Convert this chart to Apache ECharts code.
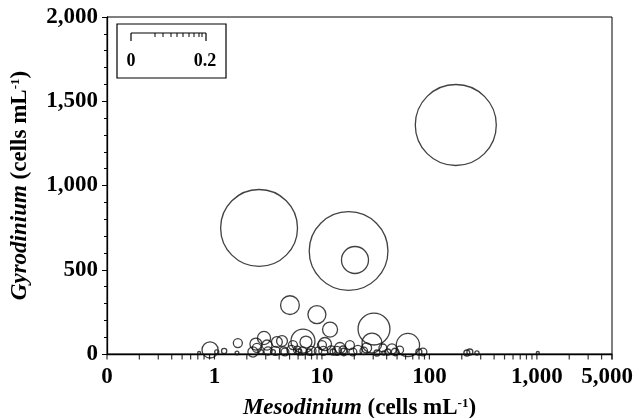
<!DOCTYPE html>
<html>
<head>
<meta charset="utf-8">
<script src="https://cdn.jsdelivr.net/npm/echarts@6/dist/echarts.min.js"></script>
<style>
  html, body { margin: 0; padding: 0; background: #fff; }
  #chart { width: 638px; height: 418px; }
</style>
</head>
<body>
<div id="chart"></div>
<script>
// Mesodinium abundance (cells mL-1), Gyrodinium abundance (cells mL-1), bubble value
const mesodinium = [
  176, 2.6, 17.7, 20.3, 5.04, 8.98, 11.9, 30.5, 29.2, 63.1,
  6.66, 0.91, 0.72, 1.05, 1.23, 1.65, 1.62, 2.43, 2.28, 2.89,
  2.48, 2.71, 3.08, 3.5, 3.81, 4.25, 4.53, 5.37, 6.11, 7.1,
  7.57, 10.66, 10, 12.7, 14.7, 15.7, 18.2, 19.4, 21.6, 32.5,
  36.9, 37.7, 44.8, 79.8, 87, 223, 238, 277, 1020,
  3.15, 3.7, 4.4, 5.2, 5.9, 6.6, 8.0, 9.2, 10.3, 12.2,
  13.8, 16.0, 24.5, 26, 41, 48, 53
];
const gyrodinium = [
  1359, 748, 611, 558, 290, 234, 145, 148, 65, 53,
  77, 24, 6, 12, 18, 65, 6, 59, 12, 95,
  36, 12, 53, 12, 71, 77, 12, 53, 12, 71,
  12, 59, 53, 12, 36, 24, 53, 12, 24, 6,
  36, 6, 30, 12, 12, 6, 12, 6, 6,
  18, 18, 18, 24, 24, 18, 18, 18, 18, 24,
  18, 12, 18, 36, 12, 12, 24
];
const bubbleValue = [
  0.216, 0.205, 0.21, 0.072, 0.05, 0.048, 0.04, 0.085, 0.053, 0.062,
  0.064, 0.043, 0.008, 0.011, 0.014, 0.024, 0.01, 0.032, 0.027, 0.035,
  0.024, 0.013, 0.027, 0.013, 0.029, 0.029, 0.021, 0.024, 0.016, 0.032,
  0.016, 0.035, 0.024, 0.016, 0.029, 0.021, 0.024, 0.021, 0.024, 0.016,
  0.021, 0.011, 0.027, 0.016, 0.021, 0.016, 0.016, 0.011, 0.008,
  0.022, 0.024, 0.022, 0.024, 0.02, 0.022, 0.024, 0.02, 0.024, 0.022,
  0.024, 0.02, 0.02, 0.027, 0.016, 0.02, 0.02
];

const xTickLabels = [0, 1, 10, 100, 1000, 5000];
const yTickLabels = [0, 500, 1000, 1500, 2000];

// "0" sits one decade below 1 on the log axis
const toLog = (v) => (v <= 0 ? -1 : Math.log10(v));
const xMin = -1;
const xMax = Math.log10(5000);

// log minor ticks (1..9 of each decade) up to 5000
const xTicks = [];
for (let d = -1; d <= 3; d++) {
  for (let k = 1; k <= 9; k++) {
    const v = d + Math.log10(k);
    if (v <= xMax + 1e-9) xTicks.push(v);
  }
}
xTicks.push(xMax);

const bubbleLegendPx = 75; // bar length of the 0.2 size key

const fmt = (n) => n.toLocaleString('en-US');
const font = 'Liberation Serif';
const labelSize = 23;

const titleRich = {
  i: { fontFamily: font, fontWeight: 'bold', fontStyle: 'italic', fontSize: labelSize, color: '#000' },
  n: { fontFamily: font, fontWeight: 'bold', fontSize: labelSize, color: '#000' },
  s: { fontFamily: font, fontWeight: 'bold', fontSize: 13, color: '#000', verticalAlign: 'top', padding: [0, 0, 10, 0] }
};

const chart = echarts.init(document.getElementById('chart'));
chart.setOption({
  animation: false,
  backgroundColor: '#fff',
  grid: {
    left: 107, right: 26, top: 17, bottom: 64,
    containLabel: false,
    outerBoundsMode: 'none',
    show: true, borderColor: '#000', borderWidth: 1
  },
  xAxis: {
    type: 'value',
    min: xMin,
    max: xMax,
    interval: 1,
    splitLine: { show: false },
    axisLine: { onZero: false, lineStyle: { color: '#000', width: 1.3 } },
    axisTick: { show: false },
    axisLabel: {
      customValues: xTickLabels.map(toLog),
      formatter: (v) => {
        const i = xTickLabels.map(toLog).findIndex((t) => Math.abs(t - v) < 1e-6);
        if (i < 0) return '';
        // last label is nudged left so it stays inside the canvas
        return i === xTickLabels.length - 1 ? '{last|' + fmt(xTickLabels[i]) + '}' : fmt(xTickLabels[i]);
      },
      margin: 12,
      color: '#000', fontFamily: font, fontWeight: 'bold', fontSize: labelSize,
      rich: {
        last: { fontFamily: font, fontWeight: 'bold', fontSize: labelSize, color: '#000', padding: [0, 10, 0, 0] }
      }
    },
    name: '{i|Mesodinium}{n| (cells mL}{s|-1}{n|)}',
    nameLocation: 'middle',
    nameGap: 43,
    nameTextStyle: { rich: titleRich }
  },
  yAxis: {
    type: 'value',
    min: 0,
    max: 2000,
    interval: 500,
    splitLine: { show: false },
    axisLine: { show: true, onZero: false, lineStyle: { color: '#000', width: 1.3 } },
    axisTick: { show: true, length: 5, lineStyle: { color: '#000' } },
    minorTick: { show: true, splitNumber: 5, length: 3, lineStyle: { color: '#000' } },
    axisLabel: {
      customValues: yTickLabels,
      formatter: (v) => fmt(v),
      margin: 9,
      color: '#000', fontFamily: font, fontWeight: 'bold', fontSize: labelSize
    },
    name: '{i|Gyrodinium}{n| (cells mL}{s|-1}{n|)}',
    nameLocation: 'middle',
    nameRotate: 90,
    nameGap: 75,
    nameTextStyle: { rich: titleRich }
  },
  series: [
    {
      type: 'scatter',
      data: mesodinium.map((m, i) => [toLog(m), gyrodinium[i], bubbleValue[i]]),
      symbol: 'circle',
      symbolSize: (val) => (val[2] / 0.2) * bubbleLegendPx,
      itemStyle: { color: 'rgba(0,0,0,0)', borderColor: '#111', borderWidth: 1.3 },
      clip: false
    },
    {
      // log-spaced tick marks below the x axis
      type: 'scatter',
      silent: true,
      data: xTicks.map((v) => [v, 0]),
      symbol: 'rect',
      symbolSize: [1.2, 5],
      symbolOffset: [0, 3],
      itemStyle: { color: '#000' },
      clip: false,
      z: 5
    }
  ],
  graphic: [
    { type: 'rect', shape: { x: 117, y: 24, width: 109, height: 54 }, style: { fill: '#fff', stroke: '#000', lineWidth: 1.2 } },
    { type: 'line', shape: { x1: 131, y1: 33, x2: 131 + bubbleLegendPx, y2: 33 }, style: { stroke: '#000', lineWidth: 1.2 } },
    { type: 'line', shape: { x1: 131, y1: 33, x2: 131, y2: 41 }, style: { stroke: '#000', lineWidth: 1.2 } },
    { type: 'line', shape: { x1: 206, y1: 33, x2: 206, y2: 41 }, style: { stroke: '#000', lineWidth: 1.2 } },
    ...[155, 163, 171, 177, 183, 189, 194, 199, 202].map((x) => ({
      type: 'line', shape: { x1: x, y1: 33, x2: x, y2: 37 }, style: { stroke: '#000', lineWidth: 1 }
    })),
    { type: 'text', x: 131, y: 61, style: { text: '0', font: 'bold 18px "Liberation Serif"', fill: '#000', align: 'center', verticalAlign: 'middle' } },
    { type: 'text', x: 205, y: 61, style: { text: '0.2', font: 'bold 18px "Liberation Serif"', fill: '#000', align: 'center', verticalAlign: 'middle' } }
  ]
});
</script>
</body>
</html>
